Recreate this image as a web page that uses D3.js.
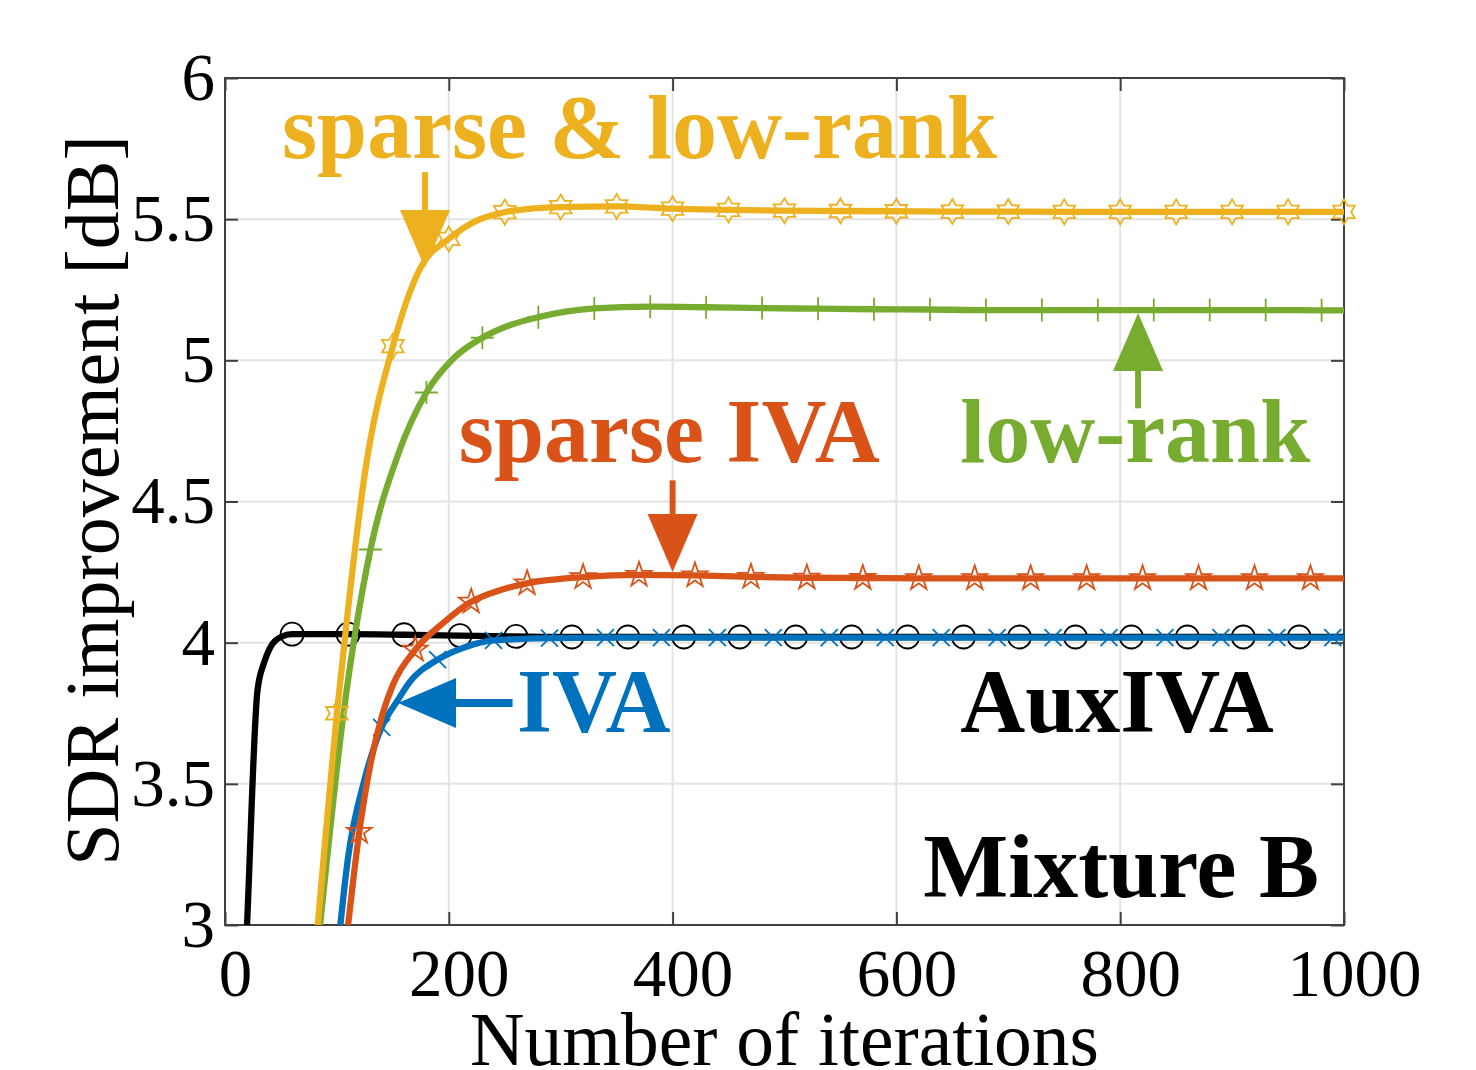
<!DOCTYPE html>
<html>
<head>
<meta charset="utf-8">
<script src="https://cdn.jsdelivr.net/npm/d3@7"></script>
<style>
  body { margin: 0; background: #fff; }
  svg { display: block; }
</style>
</head>
<body>
<svg id="chart" width="1476" height="1070"></svg>
<script>
// tick values
var xTicks = [0, 200, 400, 600, 800, 1000];
var yTicks = [3, 3.5, 4, 4.5, 5, 5.5, 6];

// AuxIVA (black, circles)
var auxIter = [10, 20, 29, 35, 40, 50, 60, 110, 160, 210, 260, 310, 360, 410, 460, 510, 560, 610, 660, 710, 760, 810, 860, 910, 960, 1000];
var auxSdr  = [2.1, 3.03, 3.83, 3.93, 3.98, 4.02, 4.03, 4.03, 4.028, 4.025, 4.022, 4.02, 4.02, 4.02, 4.02, 4.02, 4.02, 4.02, 4.02, 4.02, 4.02, 4.02, 4.02, 4.02, 4.02, 4.02];

// IVA (blue, x)
var ivaIter = [100, 110, 125, 140, 155, 165, 190, 215, 240, 290, 340, 390, 440, 490, 540, 590, 640, 690, 740, 790, 840, 890, 940, 990, 1000];
var ivaSdr  = [2.88, 3.24, 3.52, 3.70, 3.80, 3.86, 3.94, 3.985, 4.008, 4.016, 4.018, 4.018, 4.018, 4.018, 4.018, 4.018, 4.018, 4.018, 4.018, 4.018, 4.018, 4.018, 4.018, 4.018, 4.018];

// sparse IVA (red, pentagram)
var spIter = [105, 110, 120, 130, 141, 150, 170, 195, 220, 245, 270, 320, 370, 420, 470, 520, 570, 620, 670, 720, 770, 820, 870, 920, 970, 1000];
var spSdr  = [2.82, 3.0, 3.33, 3.57, 3.75, 3.85, 3.975, 4.07, 4.145, 4.185, 4.21, 4.232, 4.24, 4.238, 4.233, 4.23, 4.229, 4.228, 4.228, 4.228, 4.228, 4.228, 4.228, 4.228, 4.228, 4.228];

// low-rank (green, plus)
var lrIter = [80, 85, 90, 105, 130, 155, 180, 205, 230, 255, 280, 330, 380, 430, 480, 530, 580, 630, 680, 730, 780, 830, 880, 930, 980, 1000];
var lrSdr  = [2.81, 3.0, 3.19, 3.72, 4.33, 4.67, 4.886, 5.01, 5.08, 5.125, 5.153, 5.184, 5.19, 5.188, 5.185, 5.183, 5.181, 5.18, 5.178, 5.178, 5.178, 5.178, 5.178, 5.178, 5.177, 5.177];

// sparse & low-rank (yellow, hexagram)
var slrIter = [80, 90, 100, 110, 125, 150, 175, 200, 225, 250, 275, 300, 350, 400, 450, 500, 550, 600, 650, 700, 750, 800, 850, 900, 950, 1000];
var slrSdr  = [2.87, 3.32, 3.75, 4.12, 4.6, 5.05, 5.33, 5.43, 5.495, 5.525, 5.538, 5.543, 5.545, 5.537, 5.533, 5.53, 5.529, 5.528, 5.527, 5.527, 5.526, 5.526, 5.526, 5.526, 5.526, 5.526];

var series = [
  {name: 'AuxIVA', iter: auxIter, sdr: auxSdr, color: '#000000', marker: 'circle', offset: 10},
  {name: 'IVA', iter: ivaIter, sdr: ivaSdr, color: '#0072BD', marker: 'cross', offset: 40},
  {name: 'sparse IVA', iter: spIter, sdr: spSdr, color: '#D95319', marker: 'pentagram', offset: 20},
  {name: 'low-rank', iter: lrIter, sdr: lrSdr, color: '#77AC30', marker: 'plus', offset: 30},
  {name: 'sparse & low-rank', iter: slrIter, sdr: slrSdr, color: '#EDB120', marker: 'hexagram', offset: 0}
];

// text labels, in data units (iteration, dB)
var labels = [
  {text: 'sparse & low-rank', x: 51, y: 5.717, color: '#EDB120'},
  {text: 'sparse IVA', x: 209, y: 4.64, color: '#D95319'},
  {text: 'low-rank', x: 657, y: 4.64, color: '#77AC30'},
  {text: 'IVA', x: 261, y: 3.684, color: '#0072BD'},
  {text: 'AuxIVA', x: 657, y: 3.684, color: '#000000'},
  {text: 'Mixture B', x: 624, y: 3.099, color: '#000000'}
];

// arrows: tail -> tip, data units
var arrows = [
  {x1: 178.7, y1: 5.667, x2: 178.7, y2: 5.327, color: '#EDB120', w: 6},
  {x1: 816, y1: 4.83, x2: 816, y2: 5.168, color: '#77AC30', w: 6},
  {x1: 400, y1: 4.575, x2: 400, y2: 4.25, color: '#D95319', w: 6},
  {x1: 257, y1: 3.786, x2: 154.6, y2: 3.786, color: '#0072BD', w: 8}
];

var svg = d3.select('#chart');
var pLeft = 225, pRight = 1344, pTop = 78, pBottom = 925;

var xScale = d3.scaleLinear().domain([0, 1000]).range([pLeft, pRight]);
var yScale = d3.scaleLinear().domain([3, 6]).range([pBottom, pTop]);

var serif = '"Liberation Serif", "Times New Roman", serif';

svg.append('rect').attr('width', 1476).attr('height', 1070).attr('fill', '#fff');

// grid
var grid = svg.append('g');
grid.selectAll('.gx').data(xTicks).enter().append('line')
  .attr('x1', function(d){ return xScale(d); })
  .attr('x2', function(d){ return xScale(d); })
  .attr('y1', pTop).attr('y2', pBottom)
  .attr('stroke', '#e3e3e3').attr('stroke-width', 2);
grid.selectAll('.gy').data(yTicks).enter().append('line')
  .attr('y1', function(d){ return yScale(d); })
  .attr('y2', function(d){ return yScale(d); })
  .attr('x1', pLeft).attr('x2', pRight)
  .attr('stroke', '#e3e3e3').attr('stroke-width', 2);

// axes
var axisColor = '#404040';
var gx = svg.append('g')
  .attr('transform', 'translate(0,' + pBottom + ')')
  .call(d3.axisBottom(xScale).tickValues(xTicks).tickSizeInner(-13).tickSizeOuter(0).tickPadding(23)
    .tickFormat(function(d){ return String(d); }));
gx.selectAll('text').attr('dx', 10);
var gy = svg.append('g')
  .attr('transform', 'translate(' + pLeft + ',0)')
  .call(d3.axisLeft(yScale).tickValues(yTicks).tickSizeInner(-13).tickSizeOuter(0).tickPadding(10)
    .tickFormat(function(d){ return String(d); }));
var gt = svg.append('g')
  .attr('transform', 'translate(0,' + pTop + ')')
  .call(d3.axisTop(xScale).tickValues(xTicks).tickSizeInner(-13).tickSizeOuter(0).tickFormat(''));
var gr = svg.append('g')
  .attr('transform', 'translate(' + pRight + ',0)')
  .call(d3.axisRight(yScale).tickValues(yTicks).tickSizeInner(-13).tickSizeOuter(0).tickFormat(''));

[gx, gy, gt, gr].forEach(function(g){
  g.select('.domain').remove();
  g.selectAll('line').attr('stroke', axisColor).attr('stroke-width', 2);
  g.selectAll('text').attr('fill', '#000').style('font-family', serif).style('font-size', '67px');
});

svg.append('rect')
  .attr('x', pLeft).attr('y', pTop)
  .attr('width', pRight - pLeft).attr('height', pBottom - pTop)
  .attr('fill', 'none').attr('stroke', axisColor).attr('stroke-width', 2);

// axis labels
svg.append('text')
  .attr('x', (pLeft + pRight) / 2).attr('y', 1065)
  .attr('text-anchor', 'middle')
  .style('font-family', serif).style('font-size', '75.5px')
  .text('Number of iterations');

svg.append('text')
  .attr('transform', 'translate(118,' + ((pTop + pBottom) / 2 - 1) + ') rotate(-90)')
  .attr('text-anchor', 'middle')
  .style('font-family', serif).style('font-size', '76px')
  .text('SDR improvement [dB]');

// clip for lines
svg.append('clipPath').attr('id', 'plotclip')
  .append('rect').attr('x', pLeft).attr('y', pTop)
  .attr('width', pRight - pLeft).attr('height', pBottom - pTop);

function starPath(n, R, r) {
  var pts = [];
  for (var k = 0; k < 2 * n; k++) {
    var a = -Math.PI / 2 + k * Math.PI / n;
    var rad = (k % 2 === 0) ? R : r;
    pts.push([rad * Math.cos(a), rad * Math.sin(a)]);
  }
  return 'M' + pts.map(function(p){ return p[0].toFixed(2) + ',' + p[1].toFixed(2); }).join('L') + 'Z';
}

var markerPath = {
  circle: d3.symbol(d3.symbolCircle, Math.PI * 11.5 * 11.5)(),
  plus: 'M-11.5,0H11.5M0,-11.5V11.5',
  cross: 'M-8.5,-8.5L8.5,8.5M-8.5,8.5L8.5,-8.5',
  pentagram: starPath(5, 13, 13 * 0.382),
  hexagram: starPath(6, 12.5, 12.5 / Math.sqrt(3))
};

var line = d3.line()
  .x(function(d){ return xScale(d[0]); })
  .y(function(d){ return yScale(d[1]); })
  .curve(d3.curveMonotoneX);

series.forEach(function(s) {
  var pts = s.iter.map(function(it, i){ return [it, s.sdr[i]]; });
  svg.append('path')
    .datum(pts)
    .attr('clip-path', 'url(#plotclip)')
    .attr('fill', 'none')
    .attr('stroke', s.color)
    .attr('stroke-width', 6.3)
    .attr('stroke-linejoin', 'round')
    .attr('d', line);

  var marks = pts.filter(function(p){
    return (p[0] - s.offset) % 50 === 0 && p[1] >= 3 && p[1] <= 6;
  });
  svg.append('g').selectAll('path')
    .data(marks).enter().append('path')
    .attr('transform', function(d){ return 'translate(' + xScale(d[0]) + ',' + yScale(d[1]) + ')'; })
    .attr('d', markerPath[s.marker])
    .attr('fill', 'none')
    .attr('stroke', s.color)
    .attr('stroke-width', 1.8);
});

// arrows
var headLen = 58, headHalf = 25;
arrows.forEach(function(a) {
  var x1 = xScale(a.x1), y1 = yScale(a.y1), x2 = xScale(a.x2), y2 = yScale(a.y2);
  var dx = x2 - x1, dy = y2 - y1, len = Math.sqrt(dx * dx + dy * dy);
  var ux = dx / len, uy = dy / len;
  var bx = x2 - ux * headLen, by = y2 - uy * headLen;
  svg.append('line')
    .attr('x1', x1).attr('y1', y1).attr('x2', bx + ux * 2).attr('y2', by + uy * 2)
    .attr('stroke', a.color).attr('stroke-width', a.w);
  svg.append('path')
    .attr('d', 'M' + x2 + ',' + y2 +
      'L' + (bx - uy * headHalf) + ',' + (by + ux * headHalf) +
      'L' + (bx + uy * headHalf) + ',' + (by - ux * headHalf) + 'Z')
    .attr('fill', a.color);
});

// labels
svg.selectAll('.lbl').data(labels).enter().append('text')
  .attr('x', function(d){ return xScale(d.x); })
  .attr('y', function(d){ return yScale(d.y); })
  .attr('fill', function(d){ return d.color; })
  .style('font-family', serif)
  .style('font-weight', 'bold')
  .style('font-size', '90px')
  .text(function(d){ return d.text; });
</script>
</body>
</html>
